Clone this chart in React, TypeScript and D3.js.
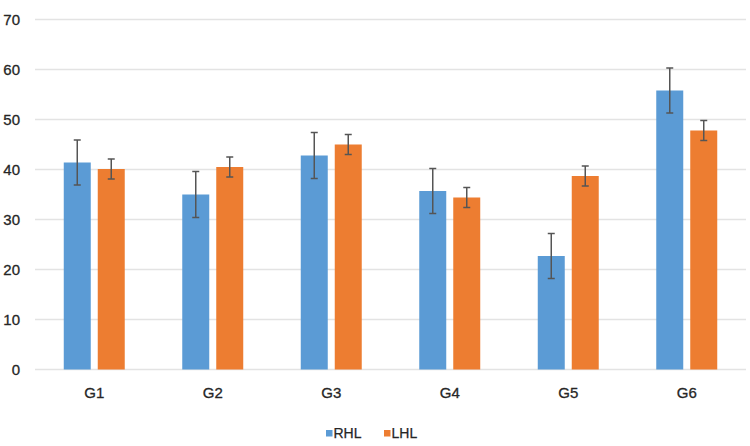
import React from "react";
import * as d3 from "d3";

const categories = ["G1", "G2", "G3", "G4", "G5", "G6"];
const seriesNames = ["RHL", "LHL"];
const rhlValues = [41.4, 35.0, 42.8, 35.7, 22.7, 55.8];
const rhlErrors = [4.5, 4.6, 4.6, 4.5, 4.5, 4.5];
const lhlValues = [40.1, 40.5, 45.0, 34.4, 38.7, 47.8];
const lhlErrors = [2.0, 2.0, 2.0, 2.0, 2.0, 2.0];
const yTicks = [0, 10, 20, 30, 40, 50, 60, 70];
const colors = ["#5b9bd5", "#ed7d31"];

const W = 750;
const H = 446;
const margin = { left: 35, right: 4, top: 19.5, bottom: 76.5 };
const FONT = "'Liberation Sans', Arial, Helvetica, sans-serif";

export default function App() {
  const x = d3
    .scaleBand<string>()
    .domain(categories)
    .range([margin.left, W - margin.right])
    .paddingInner(0)
    .paddingOuter(0);
  const inner = d3
    .scaleBand<string>()
    .domain(seriesNames)
    .range([0, x.bandwidth()])
    .paddingInner(0.206)
    .paddingOuter(0.846);
  const y = d3.scaleLinear().domain([0, 70]).range([H - margin.bottom, margin.top]);

  const series = [
    { name: seriesNames[0], values: rhlValues, errors: rhlErrors, color: colors[0] },
    { name: seriesNames[1], values: lhlValues, errors: lhlErrors, color: colors[1] },
  ];

  return (
    <svg
      width={W}
      height={H}
      style={{ position: "absolute", left: 0, top: 0, background: "#fff" }}
      fontFamily={FONT}
    >
      {yTicks.map((t) => (
        <g key={t}>
          <line
            x1={margin.left}
            x2={W - margin.right}
            y1={y(t)}
            y2={y(t)}
            stroke="#e3e3e3"
            strokeWidth={1.5}
          />
          <text
            x={20}
            y={y(t)}
            dy="0.35em"
            textAnchor="end"
            fontSize={15}
            fill="#262626"
            stroke="#262626"
            strokeWidth={0.3}
          >
            {t}
          </text>
        </g>
      ))}
      {categories.map((c, i) => (
        <g key={c}>
          {series.map((s) => {
            const bx = (x(c) as number) + (inner(s.name) as number);
            const bw = inner.bandwidth();
            const cx = bx + bw / 2;
            const v = s.values[i];
            const e = s.errors[i];
            return (
              <g key={s.name}>
                <rect x={bx} y={y(v)} width={bw} height={y(0) - y(v)} fill={s.color} />
                <line x1={cx} x2={cx} y1={y(v + e)} y2={y(v - e)} stroke="#555" strokeWidth={1.5} />
                <line x1={cx - 3.5} x2={cx + 3.5} y1={y(v + e)} y2={y(v + e)} stroke="#555" strokeWidth={1.5} />
                <line x1={cx - 3.5} x2={cx + 3.5} y1={y(v - e)} y2={y(v - e)} stroke="#555" strokeWidth={1.5} />
              </g>
            );
          })}
          <text
            x={(x(c) as number) + x.bandwidth() / 2}
            y={393}
            dy="0.35em"
            textAnchor="middle"
            fontSize={15}
            fill="#262626"
            stroke="#262626"
            strokeWidth={0.3}
          >
            {c}
          </text>
        </g>
      ))}
      {series.map((s, i) => {
        const lx = 326 + i * 58;
        return (
          <g key={s.name}>
            <rect x={lx} y={430} width={6.5} height={6.5} fill={s.color} />
            <text
              x={lx + 7.5}
              y={433.5}
              dy="0.35em"
              fontSize={14}
              fill="#262626"
              stroke="#262626"
              strokeWidth={0.25}
            >
              {s.name}
            </text>
          </g>
        );
      })}
    </svg>
  );
}
